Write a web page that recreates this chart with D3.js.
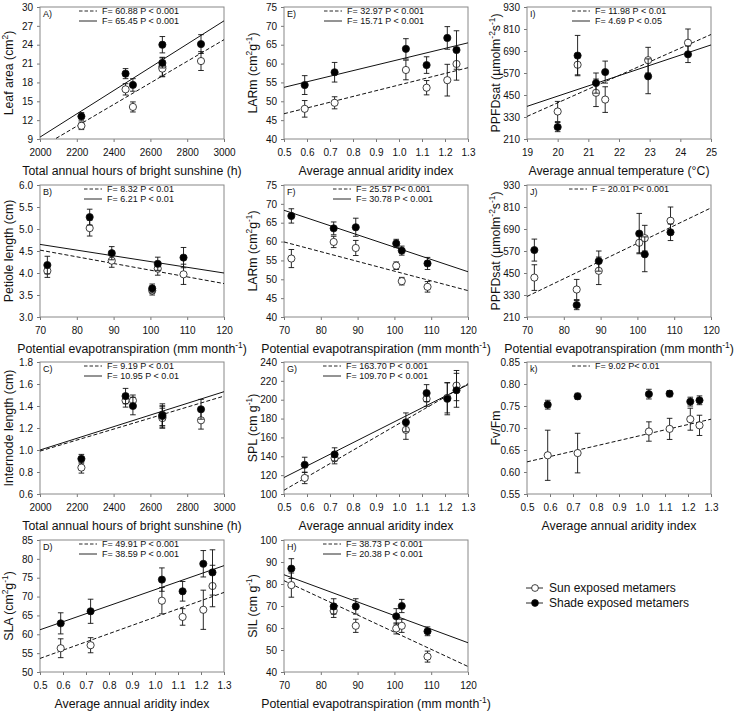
<!DOCTYPE html>
<html>
<head>
<meta charset="utf-8">
<script src="https://cdn.jsdelivr.net/npm/d3@7"></script>
<style>
body { margin: 0; background: #fff; }
text { font-family: "Liberation Sans", Arial, sans-serif; }
</style>
</head>
<body>
<div id="chart"></div>
<script>
// x values of the six sites for each climate variable
var sunshine = [2225, 2465, 2505, 2665, 2665, 2875];
var pet = [72, 83.5, 89.5, 100.5, 102, 109];
var aridity = [0.59, 0.72, 1.03, 1.12, 1.21, 1.25];
var temperature = [20, 20.65, 21.25, 21.55, 22.95, 24.25];

// A) leaf area
var leafSun = [11.1, 16.9, 14.1, 20.5, 20.2, 21.4];
var leafSunErr = [0.6, 0.9, 0.8, 1.5, 1.3, 1.5];
var leafShade = [12.6, 19.4, 17.6, 24.0, 21.1, 24.1];
var leafShadeErr = [0.6, 0.8, 1.0, 1.3, 0.8, 1.5];
var leafFitSun = [7.6, 24.8];
var leafFitShade = [9.3, 27.8];

// B) petiole length
var petioleSun = [4.05, 5.02, 4.28, 3.6, 4.1, 3.97];
var petioleSunErr = [0.15, 0.18, 0.15, 0.1, 0.15, 0.23];
var petioleShade = [4.18, 5.27, 4.45, 3.65, 4.21, 4.35];
var petioleShadeErr = [0.2, 0.18, 0.15, 0.1, 0.15, 0.23];
var petioleFitSun = [4.52, 3.76];
var petioleFitShade = [4.65, 4.0];

// C) internode length
var internodeSun = [0.84, 1.45, 1.45, 1.30, 1.29, 1.27];
var internodeSunErr = [0.05, 0.06, 0.05, 0.1, 0.09, 0.08];
var internodeShade = [0.92, 1.49, 1.40, 1.32, 1.31, 1.37];
var internodeShadeErr = [0.04, 0.07, 0.08, 0.1, 0.09, 0.09];
var internodeFitSun = [0.99, 1.49];
var internodeFitShade = [1.0, 1.53];

// D) SLA
var slaSun = [56.3, 57.1, 68.9, 64.6, 66.5, 72.8];
var slaSunErr = [2.5, 2.0, 3.5, 2.2, 5.2, 5.5];
var slaShade = [62.9, 66.1, 74.5, 71.4, 78.7, 76.4];
var slaShadeErr = [2.8, 3.2, 3.1, 2.6, 3.5, 6.0];
var slaFitSun = [53.6, 71.1];
var slaFitShade = [61.2, 78.2];

// E) LARm vs aridity
var larAriSun = [48.0, 49.6, 58.3, 53.6, 55.6, 59.9];
var larAriSunErr = [2.2, 1.6, 2.6, 1.9, 4.2, 4.3];
var larAriShade = [54.3, 57.7, 63.9, 59.6, 66.8, 63.6];
var larAriShadeErr = [2.5, 2.6, 2.7, 2.2, 3.0, 5.1];
var larAriFitSun = [46.7, 58.9];
var larAriFitShade = [53.7, 65.5];

// F) LARm vs PET
var larPetSun = [55.5, 59.9, 58.3, 53.6, 49.5, 48.0];
var larPetSunErr = [2.4, 1.5, 2.0, 1.0, 1.0, 1.4];
var larPetShade = [66.8, 63.5, 63.8, 59.5, 57.6, 54.2];
var larPetShadeErr = [1.9, 1.7, 2.4, 1.1, 1.2, 1.6];
var larPetFitSun = [59.9, 47.0];
var larPetFitShade = [68.3, 52.0];

// G) SPL
var splSun = [117, 138, 168, 201, 202, 215];
var splSunErr = [6, 6, 10, 8, 16, 16];
var splShade = [131, 142, 176, 207, 201, 210];
var splShadeErr = [8, 7, 10, 9, 17, 18];
var splFitSun = [104, 217];
var splFitShade = [117.5, 216];

// H) SIL
var silSun = [79.5, 67.8, 61, 59.8, 61, 47];
var silSunErr = [5.5, 3, 3, 2.5, 3, 2.5];
var silShade = [87, 69.8, 69.8, 65.3, 70, 58.5];
var silShadeErr = [4.5, 3.5, 3.5, 3.5, 3, 2];
var silFitSun = [81.5, 42.5];
var silFitShade = [84.2, 53.3];

// I) PPFDsat vs temperature
var ppfdTempSun = [360, 615, 462, 425, 640, 735];
var ppfdTempSunErr = [55, 55, 75, 70, 70, 75];
var ppfdTempShade = [275, 665, 515, 575, 552, 672];
var ppfdTempShadeErr = [25, 110, 55, 60, 95, 45];
var ppfdTempFitSun = [333, 780];
var ppfdTempFitShade = [388, 723];

// J) PPFDsat vs PET
var ppfdPetSun = [425, 360, 462, 615, 640, 735];
var ppfdPetSunErr = [70, 55, 75, 55, 70, 75];
var ppfdPetShade = [575, 275, 515, 665, 552, 672];
var ppfdPetShadeErr = [60, 25, 55, 110, 95, 45];
var ppfdPetFitSun = [322, 805];

// K) Fv/Fm
var fvfmSun = [0.638, 0.643, 0.692, 0.698, 0.72, 0.706];
var fvfmSunErr = [0.057, 0.045, 0.022, 0.024, 0.025, 0.023];
var fvfmShade = [0.753, 0.772, 0.777, 0.778, 0.76, 0.763];
var fvfmShadeErr = [0.01, 0.007, 0.011, 0.007, 0.01, 0.01];
var fvfmFitSun = [0.623, 0.72];

var legendNames = ["Sun exposed metamers", "Shade exposed metamers"];

// axis titles: [text, isSuperscript]
var titleSunshine = [["Total annual hours of bright sunshine (h)"]];
var titlePet = [["Potential evapotranspiration (mm month"], ["-1", 1], [")"]];
var titleAridity = [["Average annual aridity index"]];
var titleTemp = [["Average annual temperature (°C)"]];

function ticks(a, b, step) {
	var n = Math.round((b - a) / step);
	return d3.range(n + 1).map(function(i) { return +(a + i * step).toFixed(4); });
}

var colLeft = [40, 284, 527];
var rowTop = [7, 185, 362, 540];
var plotW = 184, plotH = 132;
var titleSize = 12.3, tickSize = 10, noteSize = 9;

var xSun = {vals: sunshine, dom: [2000, 3000], ticks: ticks(2000, 3000, 200), fmt: "d", title: titleSunshine};
var xPet = {vals: pet, dom: [70, 120], ticks: ticks(70, 120, 10), fmt: "d", title: titlePet};
var xAri = {vals: aridity, dom: [0.5, 1.3], ticks: ticks(0.5, 1.3, 0.1), fmt: ".1f", title: titleAridity};
var xTmp = {vals: temperature, dom: [19, 25], ticks: ticks(19, 25, 1), fmt: "d", title: titleTemp};

var panels = [
	{label: "A)", col: 0, row: 0, xa: xSun, ydom: [9, 30], yt: ticks(9, 30, 3), yfmt: "d",
		ytitle: [["Leaf area (cm"], ["2", 1], [")"]],
		sun: leafSun, sunErr: leafSunErr, shade: leafShade, shadeErr: leafShadeErr,
		fitSun: leafFitSun, fitShade: leafFitShade,
		legend: ["F= 60.88 P < 0.001", "F= 65.45 P < 0.001"], legX: 39},
	{label: "B)", col: 0, row: 1, xa: xPet, ydom: [3, 6], yt: ticks(3, 6, 0.5), yfmt: ".1f",
		ytitle: [["Petiole length (cm)"]],
		sun: petioleSun, sunErr: petioleSunErr, shade: petioleShade, shadeErr: petioleShadeErr,
		fitSun: petioleFitSun, fitShade: petioleFitShade,
		legend: ["F= 8.32 P < 0.01", "F= 6.21 P < 0.01"], legX: 44},
	{label: "C)", col: 0, row: 2, xa: xSun, ydom: [0.6, 1.8], yt: ticks(0.6, 1.8, 0.2), yfmt: ".1f",
		ytitle: [["Internode length (cm)"]],
		sun: internodeSun, sunErr: internodeSunErr, shade: internodeShade, shadeErr: internodeShadeErr,
		fitSun: internodeFitSun, fitShade: internodeFitShade,
		legend: ["F= 9.19 P < 0.01", "F= 10.95 P < 0.01"], legX: 44},
	{label: "D)", col: 0, row: 3, xa: xAri, ydom: [50, 85], yt: ticks(50, 85, 5), yfmt: "d",
		ytitle: [["SLA (cm"], ["2", 1], ["g"], ["-1", 1], [")"]],
		sun: slaSun, sunErr: slaSunErr, shade: slaShade, shadeErr: slaShadeErr,
		fitSun: slaFitSun, fitShade: slaFitShade,
		legend: ["F= 49.91 P < 0.001", "F= 38.59 P < 0.001"], legX: 39},
	{label: "E)", col: 1, row: 0, xa: xAri, ydom: [40, 75], yt: ticks(40, 75, 5), yfmt: "d",
		ytitle: [["LARm (cm"], ["2", 1], ["g"], ["-1", 1], [")"]],
		sun: larAriSun, sunErr: larAriSunErr, shade: larAriShade, shadeErr: larAriShadeErr,
		fitSun: larAriFitSun, fitShade: larAriFitShade,
		legend: ["F= 32.97 P < 0.001", "F= 15.71 P < 0.001"], legX: 40},
	{label: "F)", col: 1, row: 1, xa: xPet, ydom: [40, 75], yt: ticks(40, 75, 5), yfmt: "d",
		ytitle: [["LARm (cm"], ["2", 1], ["g"], ["-1", 1], [")"]],
		sun: larPetSun, sunErr: larPetSunErr, shade: larPetShade, shadeErr: larPetShadeErr,
		fitSun: larPetFitSun, fitShade: larPetFitShade,
		legend: ["F= 25.57 P< 0.001", "F= 30.78 P < 0.001"], legX: 49},
	{label: "G)", col: 1, row: 2, xa: xAri, ydom: [100, 240], yt: ticks(100, 240, 20), yfmt: "d",
		ytitle: [["SPL (cm g"], ["-1", 1], [")"]],
		sun: splSun, sunErr: splSunErr, shade: splShade, shadeErr: splShadeErr,
		fitSun: splFitSun, fitShade: splFitShade,
		legend: ["F= 163.70 P < 0.001", "F= 109.70 P < 0.001"], legX: 39},
	{label: "H)", col: 1, row: 3, xa: xPet, ydom: [40, 100], yt: ticks(40, 100, 10), yfmt: "d",
		ytitle: [["SIL (cm g"], ["-1", 1], [")"]],
		sun: silSun, sunErr: silSunErr, shade: silShade, shadeErr: silShadeErr,
		fitSun: silFitSun, fitShade: silFitShade,
		legend: ["F= 38.73 P < 0.001", "F= 20.38 P < 0.001"], legX: 39},
	{label: "I)", col: 2, row: 0, xa: xTmp, ydom: [210, 930], yt: ticks(210, 930, 120), yfmt: "d",
		ytitle: [["PPFDsat (\u00b5molm"], ["-2", 1], ["s"], ["-1", 1], [")"]],
		sun: ppfdTempSun, sunErr: ppfdTempSunErr, shade: ppfdTempShade, shadeErr: ppfdTempShadeErr,
		fitSun: ppfdTempFitSun, fitShade: ppfdTempFitShade,
		legend: ["F= 11.98 P < 0.01", "F= 4.69 P < 0.05"], legX: 45},
	{label: "J)", col: 2, row: 1, xa: xPet, ydom: [210, 930], yt: ticks(210, 930, 120), yfmt: "d",
		ytitle: [["PPFDsat (\u00b5molm"], ["-2", 1], ["s"], ["-1", 1], [")"]],
		sun: ppfdPetSun, sunErr: ppfdPetSunErr, shade: ppfdPetShade, shadeErr: ppfdPetShadeErr,
		fitSun: ppfdPetFitSun, fitShade: null,
		legend: ["F = 20.01 P< 0.001"], legX: 42},
	{label: "k)", col: 2, row: 2, xa: xAri, ydom: [0.55, 0.85], yt: ticks(0.55, 0.85, 0.05), yfmt: ".2f",
		ytitle: [["Fv/Fm"]],
		sun: fvfmSun, sunErr: fvfmSunErr, shade: fvfmShade, shadeErr: fvfmShadeErr,
		fitSun: fvfmFitSun, fitShade: null,
		legend: ["F= 9.02 P< 0.01"], legX: 45}
];

var svg = d3.select("#chart")
	.append("svg")
	.attr("width", 738)
	.attr("height", 711);

function richText(sel, parts, size) {
	parts.forEach(function(p, i) {
		var prevSup = i > 0 && parts[i - 1][1];
		var t = sel.append("tspan").text(p[0]);
		if (p[1]) {
			t.attr("font-size", size * 0.68).attr("dy", prevSup ? 0 : -size * 0.42);
		} else if (prevSup) {
			t.attr("dy", size * 0.42);
		}
	});
}

panels.forEach(function(p, pi) {
	var left = colLeft[p.col];
	var top = rowTop[p.row];
	var g = svg.append("g").attr("transform", `translate(${left}, ${top})`);

	var x = d3.scaleLinear().domain(p.xa.dom).range([0, plotW]);
	var y = d3.scaleLinear().domain(p.ydom).range([plotH, 0]);

	g.append("clipPath").attr("id", "clip" + pi)
		.append("rect").attr("width", plotW).attr("height", plotH);

	var xAxis = g.append("g")
		.attr("transform", `translate(0, ${plotH})`)
		.call(d3.axisBottom(x).tickValues(p.xa.ticks).tickFormat(d3.format(p.xa.fmt)).tickSize(3).tickPadding(7));
	var yAxis = g.append("g")
		.call(d3.axisLeft(y).tickValues(p.yt).tickFormat(d3.format(p.yfmt)).tickSize(3).tickPadding(4));
	[xAxis, yAxis].forEach(function(a) {
		a.select(".domain").remove();
		a.selectAll("line").attr("stroke", "#777");
		a.selectAll("text").attr("font-size", tickSize).attr("fill", "#111")
			.style("font-family", '"Liberation Sans", Arial, sans-serif');
	});

	g.append("rect")
		.attr("width", plotW).attr("height", plotH)
		.attr("fill", "none").attr("stroke", "#888").attr("stroke-width", 1);

	// axis titles
	var xt = g.append("text")
		.attr("x", plotW / 2).attr("y", plotH + 36)
		.attr("text-anchor", "middle").attr("font-size", titleSize).attr("fill", "#111");
	richText(xt, p.xa.title, titleSize);

	var yt = g.append("text")
		.attr("transform", `translate(-27, ${plotH / 2}) rotate(-90)`)
		.attr("text-anchor", "middle").attr("font-size", titleSize).attr("fill", "#111");
	richText(yt, p.ytitle, titleSize);

	// panel label
	g.append("text").attr("x", 3).attr("y", 10)
		.attr("font-size", noteSize).attr("fill", "#111").text(p.label);

	// in-panel legend for regression lines
	p.legend.forEach(function(txt, i) {
		var ly = 4 + i * 10;
		g.append("line")
			.attr("x1", p.legX).attr("x2", p.legX + 18)
			.attr("y1", ly).attr("y2", ly)
			.attr("stroke", "#111").attr("stroke-width", 0.9)
			.attr("stroke-dasharray", i === 0 ? "3.5,2" : null);
		g.append("text")
			.attr("x", p.legX + 23).attr("y", ly + 3.2)
			.attr("font-size", noteSize).attr("fill", "#111").text(txt);
	});

	// regression lines
	var plot = g.append("g").attr("clip-path", `url(#clip${pi})`);
	[[p.fitSun, "4,2.2"], [p.fitShade, null]].forEach(function(f) {
		if (!f[0]) return;
		plot.append("line")
			.attr("x1", x(p.xa.dom[0])).attr("x2", x(p.xa.dom[1]))
			.attr("y1", y(f[0][0])).attr("y2", y(f[0][1]))
			.attr("stroke", "#111").attr("stroke-width", 1)
			.attr("stroke-dasharray", f[1]);
	});

	// points with error bars: sun (open) first, shade (filled) on top
	[[p.sun, p.sunErr, "#fff"], [p.shade, p.shadeErr, "#000"]].forEach(function(s) {
		var pts = p.xa.vals.map(function(v, i) { return {x: v, y: s[0][i], e: s[1][i]}; });
		var eb = g.append("g").selectAll("g").data(pts).enter().append("g")
			.attr("stroke", "#111").attr("stroke-width", 0.9);
		eb.append("line")
			.attr("x1", d => x(d.x)).attr("x2", d => x(d.x))
			.attr("y1", d => y(d.y - d.e)).attr("y2", d => y(d.y + d.e));
		eb.append("line")
			.attr("x1", d => x(d.x) - 2.8).attr("x2", d => x(d.x) + 2.8)
			.attr("y1", d => y(d.y + d.e)).attr("y2", d => y(d.y + d.e));
		eb.append("line")
			.attr("x1", d => x(d.x) - 2.8).attr("x2", d => x(d.x) + 2.8)
			.attr("y1", d => y(d.y - d.e)).attr("y2", d => y(d.y - d.e));
		g.append("g").selectAll("circle").data(pts).enter().append("circle")
			.attr("cx", d => x(d.x)).attr("cy", d => y(d.y))
			.attr("r", 3.6)
			.attr("fill", s[2]).attr("stroke", "#111").attr("stroke-width", 0.8);
	});
});

// series legend
var lg = svg.append("g").attr("transform", "translate(526, 588)");
legendNames.forEach(function(name, i) {
	var ly = i * 15;
	lg.append("line").attr("x1", 0).attr("x2", 17).attr("y1", ly).attr("y2", ly)
		.attr("stroke", "#111").attr("stroke-width", 0.9);
	lg.append("circle").attr("cx", 9).attr("cy", ly).attr("r", 3.4)
		.attr("fill", i === 0 ? "#fff" : "#000").attr("stroke", "#111").attr("stroke-width", 0.8);
	lg.append("text").attr("x", 23).attr("y", ly + 4.3)
		.attr("font-size", 12).attr("fill", "#111").text(name);
});
</script>
</body>
</html>
